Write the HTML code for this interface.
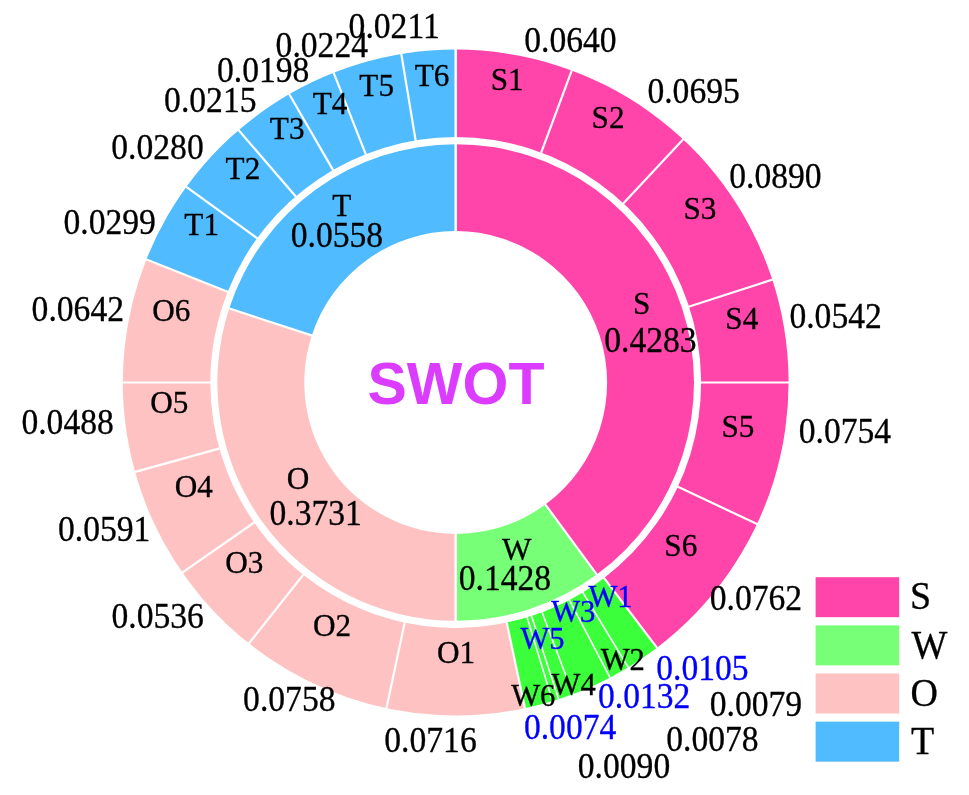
<!DOCTYPE html>
<html lang="en">
<head>
<meta charset="utf-8">
<title>SWOT</title>
<style>
html,body{margin:0;padding:0;background:#fff}
svg{display:block}
text{font-family:"Liberation Serif","Times New Roman",serif;fill:#000;stroke:#000;stroke-width:0.3px}
text.c{font-family:"Liberation Sans",Arial,sans-serif;font-weight:bold;fill:#DB3CFF;stroke:none}
</style>
</head>
<body>
<svg width="969" height="795" viewBox="0 0 969 795">
<rect width="969" height="795" fill="#fff"/>
<g>
<path d="M455.70 49.60A332.9 332.9 0 0 1 656.97 647.66L604.07 577.97A245.4 245.4 0 0 0 455.70 137.10Z" fill="#FF44AA"/>
<path d="M656.97 647.66A332.9 332.9 0 0 1 524.91 708.13L506.72 622.54A245.4 245.4 0 0 0 604.07 577.97Z" fill="#3BFF3B"/>
<path d="M524.91 708.13A332.9 332.9 0 0 1 146.39 259.41L227.69 291.76A245.4 245.4 0 0 0 506.72 622.54Z" fill="#FFC2C2"/>
<path d="M146.39 259.41A332.9 332.9 0 0 1 455.70 49.60L455.70 137.10A245.4 245.4 0 0 0 227.69 291.76Z" fill="#50BBFF"/>
<path d="M455.70 144.20A238.3 238.3 0 0 1 596.78 574.55L545.33 504.52A151.4 151.4 0 0 0 455.70 231.10Z" fill="#FF44AA"/>
<path d="M596.78 574.55A238.3 238.3 0 0 1 455.70 620.80L455.70 533.90A151.4 151.4 0 0 0 545.33 504.52Z" fill="#77FF77"/>
<path d="M455.70 620.80A238.3 238.3 0 0 1 229.19 308.47L311.79 335.46A151.4 151.4 0 0 0 455.70 533.90Z" fill="#FFC2C2"/>
<path d="M229.19 308.47A238.3 238.3 0 0 1 455.70 144.20L455.70 231.10A151.4 151.4 0 0 0 311.79 335.46Z" fill="#50BBFF"/>
<line x1="455.70" y1="137.60" x2="455.70" y2="49.10" stroke="#fff" stroke-width="2.5"/>
<line x1="541.07" y1="152.96" x2="571.91" y2="70.01" stroke="#fff" stroke-width="2.2"/>
<line x1="623.03" y1="203.68" x2="683.50" y2="139.06" stroke="#fff" stroke-width="2.2"/>
<line x1="688.61" y1="306.82" x2="772.78" y2="279.47" stroke="#fff" stroke-width="2.2"/>
<line x1="700.60" y1="382.50" x2="789.10" y2="382.50" stroke="#fff" stroke-width="2.2"/>
<line x1="677.38" y1="486.58" x2="757.49" y2="524.19" stroke="#fff" stroke-width="2.2"/>
<line x1="603.77" y1="577.57" x2="657.27" y2="648.06" stroke="#fff" stroke-width="2.2"/>
<line x1="582.56" y1="591.98" x2="628.41" y2="667.68" stroke="#fff" stroke-width="1.6"/>
<line x1="569.16" y1="599.53" x2="610.16" y2="677.96" stroke="#fff" stroke-width="1.6"/>
<line x1="541.87" y1="611.74" x2="573.00" y2="694.58" stroke="#fff" stroke-width="1.6"/>
<line x1="531.38" y1="615.41" x2="558.73" y2="699.58" stroke="#fff" stroke-width="1.6"/>
<line x1="526.89" y1="616.82" x2="552.62" y2="701.50" stroke="#fff" stroke-width="1.6"/>
<line x1="506.62" y1="622.05" x2="525.02" y2="708.61" stroke="#fff" stroke-width="2.2"/>
<line x1="404.78" y1="622.05" x2="386.38" y2="708.61" stroke="#fff" stroke-width="2.2"/>
<line x1="303.58" y1="574.43" x2="248.61" y2="643.78" stroke="#fff" stroke-width="2.2"/>
<line x1="254.60" y1="522.27" x2="181.93" y2="572.78" stroke="#fff" stroke-width="2.2"/>
<line x1="219.82" y1="448.36" x2="134.58" y2="472.16" stroke="#fff" stroke-width="2.2"/>
<line x1="210.80" y1="382.50" x2="122.30" y2="382.50" stroke="#fff" stroke-width="2.2"/>
<line x1="228.16" y1="291.95" x2="145.93" y2="259.23" stroke="#fff" stroke-width="2.2"/>
<line x1="257.57" y1="238.55" x2="185.97" y2="186.53" stroke="#fff" stroke-width="2.2"/>
<line x1="296.00" y1="196.83" x2="238.29" y2="129.74" stroke="#fff" stroke-width="2.2"/>
<line x1="333.25" y1="170.41" x2="289.00" y2="93.77" stroke="#fff" stroke-width="2.2"/>
<line x1="365.94" y1="154.64" x2="333.51" y2="72.30" stroke="#fff" stroke-width="2.2"/>
<line x1="415.70" y1="140.89" x2="401.25" y2="53.58" stroke="#fff" stroke-width="2.2"/>
<line x1="455.70" y1="231.60" x2="455.70" y2="143.70" stroke="#fff" stroke-width="2.5"/>
<line x1="545.03" y1="504.11" x2="597.07" y2="574.96" stroke="#fff" stroke-width="2.2"/>
<line x1="455.70" y1="533.40" x2="455.70" y2="621.30" stroke="#fff" stroke-width="2.5"/>
<line x1="312.27" y1="335.62" x2="228.72" y2="308.31" stroke="#fff" stroke-width="2.2"/>
</g>
<g>
<rect x="815.6" y="577.20" width="83.6" height="40" fill="#FF44AA"/>
<rect x="815.6" y="625.35" width="83.6" height="40" fill="#77FF77"/>
<rect x="815.6" y="673.50" width="83.6" height="40" fill="#FFC2C2"/>
<rect x="815.6" y="721.65" width="83.6" height="40" fill="#50BBFF"/>
</g>
<g>
<text transform="translate(490.69 89.70) scale(1 1.035)" font-size="31.2">S1</text>
<text transform="translate(591.59 128.40) scale(1 1.035)" font-size="31.2">S2</text>
<text transform="translate(683.39 218.70) scale(1 1.035)" font-size="31.2">S3</text>
<text transform="translate(725.29 328.90) scale(1 1.035)" font-size="31.2">S4</text>
<text transform="translate(721.49 436.50) scale(1 1.035)" font-size="31.2">S5</text>
<text transform="translate(664.29 556.30) scale(1 1.035)" font-size="31.2">S6</text>
<text transform="translate(588.45 607.10) scale(1 1.035)" font-size="30.6" style="fill:#0000FF;stroke:#0000FF">W1</text>
<text transform="translate(551.15 621.50) scale(1 1.035)" font-size="30.6" style="fill:#0000FF;stroke:#0000FF">W3</text>
<text transform="translate(520.45 649.20) scale(1 1.035)" font-size="30.6" style="fill:#0000FF;stroke:#0000FF">W5</text>
<text transform="translate(600.75 669.50) scale(1 1.035)" font-size="30.6">W2</text>
<text transform="translate(551.55 694.90) scale(1 1.035)" font-size="30.6">W4</text>
<text transform="translate(511.15 706.10) scale(1 1.035)" font-size="30.6">W6</text>
<text transform="translate(437.04 663.30) scale(1 1.035)" font-size="31.2">O1</text>
<text transform="translate(312.94 635.80) scale(1 1.035)" font-size="31.2">O2</text>
<text transform="translate(225.34 573.20) scale(1 1.035)" font-size="31.2">O3</text>
<text transform="translate(174.84 497.10) scale(1 1.035)" font-size="31.2">O4</text>
<text transform="translate(150.24 413.10) scale(1 1.035)" font-size="31.2">O5</text>
<text transform="translate(152.14 321.00) scale(1 1.035)" font-size="31.2">O6</text>
<text transform="translate(184.37 234.70) scale(1 1.035)" font-size="31.2">T1</text>
<text transform="translate(225.57 179.30) scale(1 1.035)" font-size="31.2">T2</text>
<text transform="translate(269.87 139.10) scale(1 1.035)" font-size="31.2">T3</text>
<text transform="translate(312.67 113.90) scale(1 1.035)" font-size="31.2">T4</text>
<text transform="translate(359.37 96.30) scale(1 1.035)" font-size="31.2">T5</text>
<text transform="translate(414.77 86.20) scale(1 1.035)" font-size="31.2">T6</text>
<text transform="translate(524.19 52.10) scale(1 1.035)" font-size="33.6">0.0640</text>
<text transform="translate(647.39 103.40) scale(1 1.035)" font-size="33.6">0.0695</text>
<text transform="translate(729.19 187.80) scale(1 1.035)" font-size="33.6">0.0890</text>
<text transform="translate(789.39 328.30) scale(1 1.035)" font-size="33.6">0.0542</text>
<text transform="translate(798.69 442.70) scale(1 1.035)" font-size="33.6">0.0754</text>
<text transform="translate(709.69 610.10) scale(1 1.035)" font-size="33.6">0.0762</text>
<text transform="translate(656.19 679.80) scale(1 1.035)" font-size="33.6" style="fill:#0000FF;stroke:#0000FF">0.0105</text>
<text transform="translate(597.99 707.60) scale(1 1.035)" font-size="33.6" style="fill:#0000FF;stroke:#0000FF">0.0132</text>
<text transform="translate(709.69 715.90) scale(1 1.035)" font-size="33.6">0.0079</text>
<text transform="translate(666.19 751.40) scale(1 1.035)" font-size="33.6">0.0078</text>
<text transform="translate(523.89 738.90) scale(1 1.035)" font-size="33.6" style="fill:#0000FF;stroke:#0000FF">0.0074</text>
<text transform="translate(577.79 778.30) scale(1 1.035)" font-size="33.6">0.0090</text>
<text transform="translate(384.29 752.20) scale(1 1.035)" font-size="33.6">0.0716</text>
<text transform="translate(243.09 710.70) scale(1 1.035)" font-size="33.6">0.0758</text>
<text transform="translate(111.49 628.10) scale(1 1.035)" font-size="33.6">0.0536</text>
<text transform="translate(57.99 540.50) scale(1 1.035)" font-size="33.6">0.0591</text>
<text transform="translate(21.39 434.30) scale(1 1.035)" font-size="33.6">0.0488</text>
<text transform="translate(31.59 321.30) scale(1 1.035)" font-size="33.6">0.0642</text>
<text transform="translate(63.49 233.60) scale(1 1.035)" font-size="33.6">0.0299</text>
<text transform="translate(111.29 159.10) scale(1 1.035)" font-size="33.6">0.0280</text>
<text transform="translate(164.09 112.30) scale(1 1.035)" font-size="33.6">0.0215</text>
<text transform="translate(216.99 82.10) scale(1 1.035)" font-size="33.6">0.0198</text>
<text transform="translate(275.59 56.70) scale(1 1.035)" font-size="33.6">0.0224</text>
<text transform="translate(348.59 38.00) scale(1 1.035)" font-size="33.6">0.0211</text>
<text transform="translate(632.99 314.00) scale(1 1.035)" font-size="31.2">S</text>
<text transform="translate(604.19 351.90) scale(1 1.035)" font-size="33.6">0.4283</text>
<text transform="translate(501.94 559.70) scale(1 1.035)" font-size="31.2">W</text>
<text transform="translate(458.69 589.70) scale(1 1.035)" font-size="33.6">0.1428</text>
<text transform="translate(286.64 488.90) scale(1 1.035)" font-size="31.2">O</text>
<text transform="translate(269.49 525.40) scale(1 1.035)" font-size="33.6">0.3731</text>
<text transform="translate(332.17 216.00) scale(1 1.035)" font-size="31.2">T</text>
<text transform="translate(290.69 246.80) scale(1 1.035)" font-size="33.6">0.0558</text>
<text transform="translate(910.10 609.20) scale(1 1.035)" font-size="38">S</text>
<text transform="translate(911.51 657.90) scale(1 1.035)" font-size="38">W</text>
<text transform="translate(910.41 706.10) scale(1 1.035)" font-size="38">O</text>
<text transform="translate(911.05 754.30) scale(1 1.035)" font-size="38">T</text>
</g>
<text class="c" x="456" y="403.8" font-size="59" text-anchor="middle">SWOT</text>
</svg>
</body>
</html>
